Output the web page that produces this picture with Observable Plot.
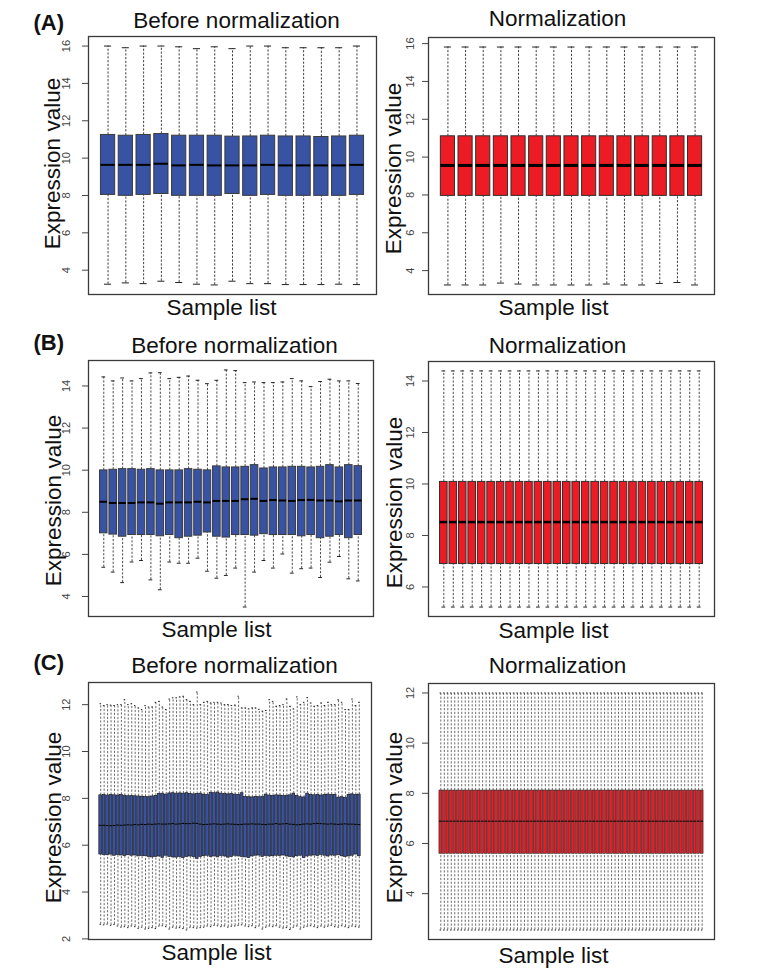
<!DOCTYPE html>
<html>
<head>
<meta charset="utf-8">
<script src="https://cdn.jsdelivr.net/npm/d3@7"></script>
<script src="https://cdn.jsdelivr.net/npm/@observablehq/plot@0.6"></script>
<style>
  body { margin: 0; background: #fff; }
  #fig { position: relative; width: 760px; height: 970px; background: #fff; overflow: hidden; }
</style>
</head>
<body>
<div id="fig"></div>
<script>
// ---- Dataset A (15 arrays) ----
const aBeforeQ3  = [11.24, 11.20, 11.24, 11.29, 11.20, 11.20, 11.20, 11.15, 11.16, 11.20, 11.16, 11.16, 11.13, 11.16, 11.20];
const aBeforeMed = [9.64, 9.64, 9.64, 9.70, 9.61, 9.64, 9.61, 9.61, 9.61, 9.64, 9.61, 9.61, 9.61, 9.61, 9.64];
const aBeforeQ1  = [8.03, 7.98, 8.03, 8.08, 7.98, 7.98, 7.98, 8.08, 7.98, 8.03, 7.98, 7.98, 7.98, 7.98, 8.03];
const aBeforeHi  = [16.00, 15.91, 16.00, 16.00, 15.96, 15.86, 15.96, 15.86, 16.00, 16.00, 15.91, 15.91, 15.91, 15.91, 16.00];
const aBeforeLo  = [3.25, 3.32, 3.28, 3.41, 3.34, 3.25, 3.21, 3.41, 3.28, 3.28, 3.23, 3.23, 3.23, 3.25, 3.23];

const aNormQ3  = [11.10, 11.10, 11.10, 11.10, 11.10, 11.10, 11.10, 11.10, 11.10, 11.10, 11.10, 11.10, 11.10, 11.10, 11.10];
const aNormMed = [9.56, 9.56, 9.56, 9.56, 9.56, 9.56, 9.56, 9.56, 9.56, 9.56, 9.56, 9.56, 9.56, 9.56, 9.56];
const aNormQ1  = [7.95, 7.95, 7.95, 7.95, 7.95, 7.95, 7.95, 7.95, 7.95, 7.95, 7.95, 7.95, 7.95, 7.95, 7.95];
const aNormHi  = [15.82, 15.82, 15.82, 15.82, 15.82, 15.82, 15.82, 15.82, 15.82, 15.82, 15.82, 15.82, 15.82, 15.82, 15.82];
const aNormLo  = [3.24, 3.24, 3.24, 3.34, 3.29, 3.24, 3.24, 3.24, 3.24, 3.29, 3.24, 3.24, 3.32, 3.37, 3.24];

// ---- Dataset B (28 arrays) ----
const bBeforeQ3  = [9.99, 10.02, 10.05, 10.05, 10.02, 10.05, 9.99, 9.99, 9.99, 10.05, 10.02, 9.99, 10.18, 10.13,
                    10.13, 10.16, 10.24, 10.08, 10.13, 10.13, 10.16, 10.16, 10.13, 10.16, 10.24, 10.13, 10.24, 10.19];
const bBeforeMed = [8.50, 8.44, 8.44, 8.44, 8.47, 8.47, 8.41, 8.47, 8.47, 8.47, 8.50, 8.47, 8.54, 8.54,
                    8.54, 8.62, 8.64, 8.54, 8.58, 8.56, 8.54, 8.58, 8.59, 8.56, 8.56, 8.52, 8.56, 8.56];
const bBeforeQ1  = [7.00, 6.94, 6.84, 6.92, 6.92, 6.92, 6.86, 6.92, 6.77, 6.84, 6.89, 7.04, 6.84, 6.80,
                    6.92, 6.92, 6.89, 6.96, 6.92, 6.92, 6.92, 6.86, 6.92, 6.77, 6.84, 6.92, 6.77, 6.92];
const bBeforeHi  = [14.43, 14.24, 14.38, 14.24, 14.35, 14.62, 14.63, 14.35, 14.41, 14.47, 14.27, 14.11, 14.27, 14.76,
                    14.73, 14.16, 14.19, 14.16, 14.16, 14.19, 14.35, 14.24, 13.97, 14.21, 14.32, 14.24, 14.24, 14.12];
const bBeforeLo  = [5.39, 5.16, 4.66, 5.64, 5.71, 4.79, 4.32, 5.64, 5.58, 5.58, 5.82, 5.20, 4.87, 5.00,
                    5.35, 3.50, 5.16, 5.71, 5.35, 6.02, 5.11, 5.32, 5.35, 4.90, 5.63, 5.90, 4.84, 4.74];

const bNormQ3  = [10.08, 10.08, 10.08, 10.08, 10.08, 10.08, 10.08, 10.08, 10.08, 10.08, 10.08, 10.08, 10.08, 10.08,
                  10.08, 10.08, 10.08, 10.08, 10.08, 10.08, 10.08, 10.08, 10.08, 10.08, 10.08, 10.08, 10.08, 10.08];
const bNormMed = [8.52, 8.52, 8.52, 8.52, 8.52, 8.52, 8.52, 8.52, 8.52, 8.52, 8.52, 8.52, 8.52, 8.52,
                  8.52, 8.52, 8.52, 8.52, 8.52, 8.52, 8.52, 8.52, 8.52, 8.52, 8.52, 8.52, 8.52, 8.52];
const bNormQ1  = [6.89, 6.89, 6.89, 6.89, 6.89, 6.89, 6.89, 6.89, 6.89, 6.89, 6.89, 6.89, 6.89, 6.89,
                  6.89, 6.89, 6.89, 6.89, 6.89, 6.89, 6.89, 6.89, 6.89, 6.89, 6.89, 6.89, 6.89, 6.89];
const bNormHi  = [14.39, 14.39, 14.39, 14.39, 14.39, 14.39, 14.39, 14.39, 14.39, 14.39, 14.39, 14.39, 14.39, 14.39,
                  14.39, 14.39, 14.39, 14.39, 14.39, 14.39, 14.39, 14.39, 14.39, 14.39, 14.39, 14.39, 14.39, 14.39];
const bNormLo  = [5.22, 5.22, 5.22, 5.22, 5.22, 5.22, 5.22, 5.22, 5.22, 5.22, 5.22, 5.22, 5.22, 5.22,
                  5.22, 5.22, 5.22, 5.22, 5.22, 5.22, 5.22, 5.22, 5.22, 5.22, 5.22, 5.22, 5.22, 5.22];

// ---- Dataset C (76 arrays) ----
const cBeforeQ3 = [
  8.13, 8.14, 8.12, 8.14, 8.13, 8.12, 8.15, 8.11,
  8.09, 8.10, 8.09, 8.08, 8.07, 8.06, 8.05, 8.08,
  8.10, 8.19, 8.20, 8.16, 8.21, 8.22, 8.20, 8.21,
  8.20, 8.22, 8.19, 8.17, 8.18, 8.20, 8.16, 8.14,
  8.24, 8.22, 8.25, 8.20, 8.18, 8.17, 8.19, 8.16,
  8.15, 8.22, 8.06, 8.05, 8.04, 8.06, 8.05, 8.07,
  8.16, 8.12, 8.10, 8.13, 8.12, 8.10, 8.11, 8.13,
  8.20, 8.10, 8.05, 8.04, 8.20, 8.14, 8.13, 8.15,
  8.12, 8.14, 8.16, 8.15, 8.15, 8.03, 8.05, 8.02,
  8.15, 8.17, 8.14, 8.16];
const cBeforeMed = [
  6.85, 6.85, 6.84, 6.83, 6.84, 6.86, 6.85, 6.86, 6.87, 6.86,
  6.88, 6.87, 6.89, 6.88, 6.90, 6.89, 6.90, 6.91, 6.90, 6.90,
  6.91, 6.92, 6.90, 6.91, 6.93, 6.92, 6.92, 6.94, 6.93, 6.90,
  6.88, 6.89, 6.90, 6.91, 6.90, 6.89, 6.90, 6.91, 6.90, 6.89,
  6.88, 6.89, 6.90, 6.90, 6.91, 6.90, 6.90, 6.89, 6.88, 6.90,
  6.90, 6.92, 6.90, 6.91, 6.92, 6.90, 6.89, 6.87, 6.88, 6.90,
  6.91, 6.90, 6.92, 6.93, 6.92, 6.91, 6.90, 6.91, 6.90, 6.89,
  6.90, 6.91, 6.90, 6.90, 6.89, 6.88];
const cBeforeQ1 = [
  5.60, 5.58, 5.57, 5.60, 5.55, 5.58, 5.56, 5.54,
  5.57, 5.55, 5.56, 5.52, 5.54, 5.53, 5.50, 5.48,
  5.50, 5.52, 5.46, 5.55, 5.50, 5.48, 5.47, 5.50,
  5.45, 5.50, 5.52, 5.49, 5.42, 5.50, 5.53, 5.55,
  5.50, 5.52, 5.48, 5.54, 5.52, 5.47, 5.50, 5.55,
  5.52, 5.50, 5.48, 5.45, 5.52, 5.55, 5.56, 5.50,
  5.54, 5.52, 5.53, 5.55, 5.54, 5.56, 5.52, 5.50,
  5.48, 5.53, 5.55, 5.45, 5.52, 5.55, 5.56, 5.54,
  5.58, 5.55, 5.52, 5.56, 5.55, 5.57, 5.53, 5.50,
  5.52, 5.55, 5.60, 5.53];
const cBeforeHi = [
  12.04, 11.96, 12.00, 11.98, 11.96, 12.00, 12.00, 12.21, 12.00, 12.04,
  11.96, 11.86, 11.79, 11.96, 11.90, 11.90, 12.10, 12.14, 11.90, 11.79,
  12.24, 12.29, 12.29, 12.33, 12.36, 12.21, 12.14, 12.00, 12.54, 12.00,
  12.10, 12.14, 12.07, 12.10, 12.10, 12.07, 12.00, 12.00, 11.96, 11.98,
  12.36, 11.86, 11.86, 11.82, 11.86, 11.86, 11.80, 11.72, 11.75, 12.21,
  12.14, 11.93, 11.96, 12.00, 12.24, 11.93, 11.82, 12.33, 12.00, 12.10,
  12.30, 12.07, 11.93, 11.96, 12.07, 11.96, 12.10, 12.00, 12.00, 12.21,
  12.10, 11.79, 11.79, 12.24, 11.96, 12.10];
const cBeforeLo = [
  2.62, 2.60, 2.63, 2.58, 2.62, 2.55, 2.50, 2.52, 2.48, 2.55,
  2.52, 2.45, 2.50, 2.42, 2.45, 2.48, 2.44, 2.55, 2.56, 2.52,
  2.42, 2.50, 2.46, 2.48, 2.44, 2.38, 2.50, 2.48, 2.46, 2.48,
  2.50, 2.55, 2.52, 2.58, 2.56, 2.52, 2.55, 2.50, 2.54, 2.55,
  2.58, 2.60, 2.55, 2.52, 2.56, 2.48, 2.55, 2.42, 2.50, 2.55,
  2.52, 2.56, 2.50, 2.46, 2.48, 2.40, 2.50, 2.55, 2.42, 2.50,
  2.54, 2.56, 2.52, 2.48, 2.55, 2.50, 2.54, 2.58, 2.52, 2.50,
  2.56, 2.52, 2.48, 2.55, 2.52, 2.50];

const cNormQ3 = [
  8.11, 8.11, 8.11, 8.11, 8.11, 8.11, 8.11, 8.11, 8.11, 8.11, 8.11, 8.11, 8.11, 8.11, 8.11, 8.11, 8.11, 8.11, 8.11,
  8.11, 8.11, 8.11, 8.11, 8.11, 8.11, 8.11, 8.11, 8.11, 8.11, 8.11, 8.11, 8.11, 8.11, 8.11, 8.11, 8.11, 8.11, 8.11,
  8.11, 8.11, 8.11, 8.11, 8.11, 8.11, 8.11, 8.11, 8.11, 8.11, 8.11, 8.11, 8.11, 8.11, 8.11, 8.11, 8.11, 8.11, 8.11,
  8.11, 8.11, 8.11, 8.11, 8.11, 8.11, 8.11, 8.11, 8.11, 8.11, 8.11, 8.11, 8.11, 8.11, 8.11, 8.11, 8.11, 8.11, 8.11];
const cNormMed = [
  6.89, 6.89, 6.89, 6.89, 6.89, 6.89, 6.89, 6.89, 6.89, 6.89, 6.89, 6.89, 6.89, 6.89, 6.89, 6.89, 6.89, 6.89, 6.89,
  6.89, 6.89, 6.89, 6.89, 6.89, 6.89, 6.89, 6.89, 6.89, 6.89, 6.89, 6.89, 6.89, 6.89, 6.89, 6.89, 6.89, 6.89, 6.89,
  6.89, 6.89, 6.89, 6.89, 6.89, 6.89, 6.89, 6.89, 6.89, 6.89, 6.89, 6.89, 6.89, 6.89, 6.89, 6.89, 6.89, 6.89, 6.89,
  6.89, 6.89, 6.89, 6.89, 6.89, 6.89, 6.89, 6.89, 6.89, 6.89, 6.89, 6.89, 6.89, 6.89, 6.89, 6.89, 6.89, 6.89, 6.89];
const cNormQ1 = [
  5.59, 5.59, 5.59, 5.59, 5.59, 5.59, 5.59, 5.59, 5.59, 5.59, 5.59, 5.59, 5.59, 5.59, 5.59, 5.59, 5.59, 5.59, 5.59,
  5.59, 5.59, 5.59, 5.59, 5.59, 5.59, 5.59, 5.59, 5.59, 5.59, 5.59, 5.59, 5.59, 5.59, 5.59, 5.59, 5.59, 5.59, 5.59,
  5.59, 5.59, 5.59, 5.59, 5.59, 5.59, 5.59, 5.59, 5.59, 5.59, 5.59, 5.59, 5.59, 5.59, 5.59, 5.59, 5.59, 5.59, 5.59,
  5.59, 5.59, 5.59, 5.59, 5.59, 5.59, 5.59, 5.59, 5.59, 5.59, 5.59, 5.59, 5.59, 5.59, 5.59, 5.59, 5.59, 5.59, 5.59];
const cNormHi = [
  12.0, 12.0, 12.0, 12.0, 12.0, 12.0, 12.0, 12.0, 12.0, 12.0, 12.0, 12.0, 12.0, 12.0, 12.0, 12.0, 12.0, 12.0, 12.0,
  12.0, 12.0, 12.0, 12.0, 12.0, 12.0, 12.0, 12.0, 12.0, 12.0, 12.0, 12.0, 12.0, 12.0, 12.0, 12.0, 12.0, 12.0, 12.0,
  12.0, 12.0, 12.0, 12.0, 12.0, 12.0, 12.0, 12.0, 12.0, 12.0, 12.0, 12.0, 12.0, 12.0, 12.0, 12.0, 12.0, 12.0, 12.0,
  12.0, 12.0, 12.0, 12.0, 12.0, 12.0, 12.0, 12.0, 12.0, 12.0, 12.0, 12.0, 12.0, 12.0, 12.0, 12.0, 12.0, 12.0, 12.0];
const cNormLo = [
  2.55, 2.55, 2.55, 2.55, 2.55, 2.55, 2.55, 2.55, 2.55, 2.55, 2.55, 2.55, 2.55, 2.55, 2.55, 2.55, 2.55, 2.55, 2.55,
  2.55, 2.55, 2.55, 2.55, 2.55, 2.55, 2.55, 2.55, 2.55, 2.55, 2.55, 2.55, 2.55, 2.55, 2.55, 2.55, 2.55, 2.55, 2.55,
  2.55, 2.55, 2.55, 2.55, 2.55, 2.55, 2.55, 2.55, 2.55, 2.55, 2.55, 2.55, 2.55, 2.55, 2.55, 2.55, 2.55, 2.55, 2.55,
  2.55, 2.55, 2.55, 2.55, 2.55, 2.55, 2.55, 2.55, 2.55, 2.55, 2.55, 2.55, 2.55, 2.55, 2.55, 2.55, 2.55, 2.55, 2.55];

// ---- y tick labels ----
const ticksA       = [4, 6, 8, 10, 12, 14, 16];
const ticksBBefore = [4, 6, 8, 10, 12, 14];
const ticksBNorm   = [6, 8, 10, 12, 14];
const ticksCBefore = [2, 4, 6, 8, 10, 12];
const ticksCNorm   = [4, 6, 8, 10, 12];

// ---- text ----
const titleBefore = "Before normalization";
const titleNorm = "Normalization";
const yLabel = "Expression value";
const xLabel = "Sample list";
const panelTags = ["(A)", "(B)", "(C)"];

const FONT = '"Liberation Sans", Arial, Helvetica, sans-serif';
const BLUE = "#3953a4";
const RED = "#ed1c24";

// One boxplot panel in the style of R's boxplot(): boxes of width 0.8,
// dashed whiskers with half-width staples, axis ranges padded by 4%.
function boxPanel(cfg) {
  const n = cfg.q1.length;
  const rows = cfg.q1.map((_, k) => ({
    i: k + 1, q1: cfg.q1[k], med: cfg.med[k], q3: cfg.q3[k], lo: cfg.lo[k], hi: cfg.hi[k]
  }));
  const ymin = d3.min(cfg.lo), ymax = d3.max(cfg.hi);
  const ypad = 0.04 * (ymax - ymin);
  const xpad = 0.04 * n;
  const half = 0.4, staple = 0.2;
  const [fl, ft, fr, fb] = cfg.frame;           // frame edges in page px
  const ox = cfg.left, oy = cfg.top, W = cfg.width, H = cfg.height;
  const fcx = (fl + fr) / 2, fcy = (ft + fb) / 2;

  const whisker = {stroke: "#2b2b2b", strokeWidth: cfg.whiskerWidth, strokeDasharray: "2.2,1.6"};
  const marks = [
    Plot.ruleX(rows, {x: "i", y1: "q3", y2: "hi", ...whisker}),
    Plot.ruleX(rows, {x: "i", y1: "lo", y2: "q1", ...whisker}),
    Plot.ruleY(rows, {y: "hi", x1: d => d.i - staple, x2: d => d.i + staple, stroke: "#222", strokeWidth: 1}),
    Plot.ruleY(rows, {y: "lo", x1: d => d.i - staple, x2: d => d.i + staple, stroke: "#222", strokeWidth: 1}),
    Plot.rect(rows, {x1: d => d.i - half, x2: d => d.i + half, y1: "q1", y2: "q3",
                     fill: cfg.fill, stroke: cfg.boxStroke, strokeWidth: cfg.boxStrokeWidth}),
    Plot.ruleY(rows, {y: "med", x1: d => d.i - half, x2: d => d.i + half, stroke: "#000", strokeWidth: cfg.medWidth}),
    Plot.frame({stroke: "#3a3a3a", strokeWidth: 1.3}),
    Plot.axisY({ticks: cfg.ticks, tickRotate: -90, tickSize: 6, tickPadding: cfg.tickPad, fontSize: 11,
                color: "#444", label: null}),
    Plot.text([cfg.title], {text: d => d, frameAnchor: "top", lineAnchor: "bottom",
                            dx: cfg.titleX - fcx, dy: cfg.titleY - ft, fontSize: 22.5, fill: "#111"}),
    Plot.text([yLabel], {text: d => d, frameAnchor: "left", rotate: -90, textAnchor: "middle", lineAnchor: "bottom",
                         dx: cfg.yLabX - fl, dy: cfg.yLabY - fcy, fontSize: 22.5, fill: "#111"}),
    Plot.text([xLabel], {text: d => d, frameAnchor: "bottom", lineAnchor: "bottom",
                         dx: cfg.xLabX - fcx, dy: cfg.xLabY - fb, fontSize: 22.5, fill: "#111"})
  ];
  if (cfg.tag) {
    marks.push(Plot.text([cfg.tag], {text: d => d, frameAnchor: "top-left", textAnchor: "start", lineAnchor: "bottom",
                                     dx: 33 - fl, dy: cfg.tagY - ft, fontSize: 22, fontWeight: "bold", fill: "#111"}));
  }
  const svg = Plot.plot({
    width: W, height: H,
    marginLeft: fl - ox, marginTop: ft - oy, marginRight: ox + W - fr, marginBottom: oy + H - fb,
    style: {fontFamily: FONT, background: "transparent", overflow: "visible"},
    x: {domain: [0.5 - xpad, n + 0.5 + xpad], axis: null},
    y: {domain: [ymin - ypad, ymax + ypad], axis: null},
    marks
  });
  svg.style.position = "absolute";
  svg.style.left = ox + "px";
  svg.style.top = oy + "px";
  return svg;
}

const fig = document.getElementById("fig");
const before = {fill: BLUE, boxStroke: "#3b3b3b", tickPad: 12.5};
const norm = {fill: RED, boxStroke: "#2e2e2e", tickPad: 8.5};

// Row A
fig.appendChild(boxPanel({...before, left: 0, top: 0, width: 380, height: 320, frame: [88, 36, 376, 294],
  q1: aBeforeQ1, med: aBeforeMed, q3: aBeforeQ3, lo: aBeforeLo, hi: aBeforeHi, ticks: ticksA,
  title: titleBefore, titleX: 236, titleY: 27, yLabX: 59.5, yLabY: 163, xLabX: 221, xLabY: 314,
  tag: panelTags[0], tagY: 29, whiskerWidth: 0.9, boxStrokeWidth: 1, medWidth: 2}));
fig.appendChild(boxPanel({...norm, left: 380, top: 0, width: 380, height: 320, frame: [428, 37, 714, 294],
  q1: aNormQ1, med: aNormMed, q3: aNormQ3, lo: aNormLo, hi: aNormHi, ticks: ticksA,
  title: titleNorm, titleX: 557, titleY: 25.5, yLabX: 400, yLabY: 168, xLabX: 553, xLabY: 314,
  whiskerWidth: 0.9, boxStrokeWidth: 1, medWidth: 3}));

// Row B
fig.appendChild(boxPanel({...before, left: 0, top: 320, width: 380, height: 320, frame: [88, 360, 373, 616],
  q1: bBeforeQ1, med: bBeforeMed, q3: bBeforeQ3, lo: bBeforeLo, hi: bBeforeHi, ticks: ticksBBefore,
  title: titleBefore, titleX: 234, titleY: 352, yLabX: 60.5, yLabY: 500, xLabX: 216, xLabY: 636,
  tag: panelTags[1], tagY: 349.5, whiskerWidth: 0.85, boxStrokeWidth: 1, medWidth: 2}));
fig.appendChild(boxPanel({...norm, left: 380, top: 320, width: 380, height: 320, frame: [428, 361, 714, 616],
  q1: bNormQ1, med: bNormMed, q3: bNormQ3, lo: bNormLo, hi: bNormHi, ticks: ticksBNorm,
  title: titleNorm, titleX: 557, titleY: 352, yLabX: 401, yLabY: 502, xLabX: 553, xLabY: 637,
  whiskerWidth: 0.85, boxStrokeWidth: 1, medWidth: 2.5}));

// Row C
fig.appendChild(boxPanel({...before, left: 0, top: 640, width: 380, height: 330, frame: [88, 682, 371, 939],
  q1: cBeforeQ1, med: cBeforeMed, q3: cBeforeQ3, lo: cBeforeLo, hi: cBeforeHi, ticks: ticksCBefore,
  title: titleBefore, titleX: 234, titleY: 672, yLabX: 60.5, yLabY: 817, xLabX: 216, xLabY: 959,
  tag: panelTags[2], tagY: 669.5, whiskerWidth: 0.7, boxStrokeWidth: 0.7, medWidth: 1, boxStroke: "#1a1a1a"}));
fig.appendChild(boxPanel({...norm, left: 380, top: 640, width: 380, height: 330, frame: [428, 683, 714, 939],
  q1: cNormQ1, med: cNormMed, q3: cNormQ3, lo: cNormLo, hi: cNormHi, ticks: ticksCNorm,
  title: titleNorm, titleX: 557, titleY: 672, yLabX: 401, yLabY: 817, xLabX: 553, xLabY: 962,
  whiskerWidth: 0.7, boxStrokeWidth: 0.6, medWidth: 1, boxStroke: "#222"}));
</script>
</body>
</html>
